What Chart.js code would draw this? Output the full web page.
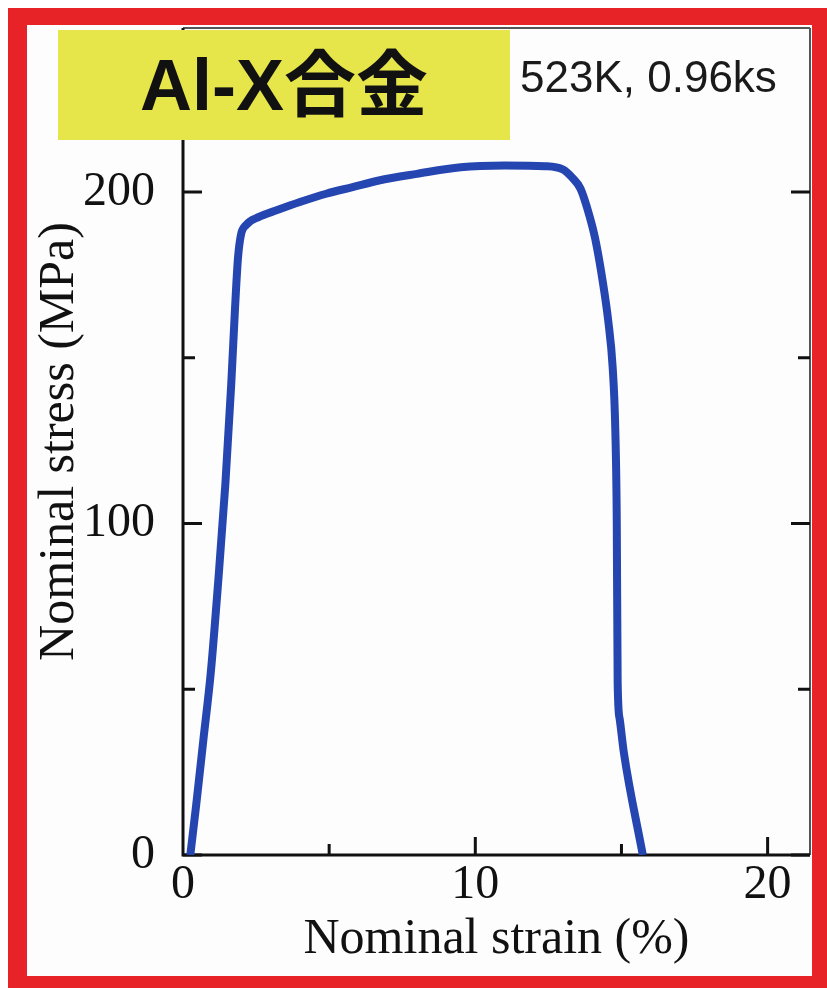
<!DOCTYPE html>
<html>
<head>
<meta charset="utf-8">
<script src="https://cdn.jsdelivr.net/npm/chart.js@4/dist/chart.umd.min.js"></script>
<style>
  body { margin: 0; background: #fff; }
  #frame {
    position: absolute; left: 8px; top: 8px;
    width: 785px; height: 951px;
    border-style: solid; border-color: #e82328;
    border-width: 17px 15px 12px 19px;
    background: #fdfdfd;
  }
  #chart { position: absolute; left: 0; top: 0; }
  #badge {
    position: absolute; left: 31px; top: 5px; width: 452px; height: 110px;
    background: #e6e64a; color: #111; text-align: center;
    font: bold 72px "Liberation Sans", "Noto Sans CJK JP", sans-serif;
    line-height: 110px;
  }
  #cond {
    position: absolute; left: 493px; top: 30px;
    font: 44px "Liberation Sans", sans-serif; line-height: 1; color: #1a1a1a;
  }
</style>
</head>
<body>
<div id="frame">
  <canvas id="chart" width="785" height="951"></canvas>
  <div id="badge">Al-X合金</div>
  <div id="cond">523K, 0.96ks</div>
</div>
<script>
// values: strain (%) vs stress (MPa)
const strain = [0.25, 0.45, 0.7, 0.95, 1.2, 1.45, 1.65, 1.78, 1.88, 1.98, 2.15, 2.6, 3.2, 4.0, 4.9, 5.8, 6.7, 8.0, 9.5, 11.0, 12.4, 13.0, 13.3, 13.6, 13.9, 14.1, 14.36, 14.55, 14.7, 14.79, 14.84, 14.87, 14.94, 15.08, 15.73];
const stress = [0, 15, 35, 55, 82, 112, 142, 165, 180, 187, 190, 192.5, 194.5, 197, 199.5, 201.5, 203.5, 205.5, 207.5, 208, 207.8, 206.8, 204.5, 201, 193, 186, 173, 161, 147, 128, 100, 52, 41, 31, 0];

const xTicks = [0, 10, 20];
const xMinor = [5, 15];
const yTicks = [0, 100, 200];
const yMinor = [50, 150];

const serif = '"Liberation Serif", "Times New Roman", serif';

// box frame with inward ticks
const framePlugin = {
  id: 'frame',
  beforeDatasetsDraw(chart) {
    const { ctx, chartArea: a, scales } = chart;
    ctx.save();
    ctx.strokeStyle = '#555';
    ctx.lineWidth = 2;
    ctx.beginPath();
    ctx.moveTo(a.left, a.top); ctx.lineTo(a.right, a.top);
    ctx.moveTo(a.right, a.top); ctx.lineTo(a.right, a.bottom);
    ctx.stroke();

    ctx.strokeStyle = '#111';
    ctx.lineWidth = 3;
    ctx.beginPath();
    ctx.moveTo(a.left, a.top); ctx.lineTo(a.left, a.bottom);
    ctx.lineTo(a.right, a.bottom);
    ctx.stroke();

    ctx.beginPath();
    yTicks.concat(yMinor).forEach(v => {
      const len = yTicks.includes(v) ? 19 : 12;
      const y = scales.y.getPixelForValue(v);
      ctx.moveTo(a.left, y); ctx.lineTo(a.left + len, y);
      ctx.moveTo(a.right, y); ctx.lineTo(a.right - len, y);
    });
    xTicks.concat(xMinor).forEach(v => {
      if (v === 0) return;
      const len = xTicks.includes(v) ? 18 : 11;
      const x = scales.x.getPixelForValue(v);
      ctx.moveTo(x, a.bottom); ctx.lineTo(x, a.bottom - len);
    });
    ctx.stroke();
    ctx.restore();
  }
};

new Chart(document.getElementById('chart'), {
  type: 'scatter',
  data: {
    datasets: [{
      data: strain.map((x, i) => ({ x: x, y: stress[i] })),
      showLine: true,
      borderColor: '#2546b0',
      borderWidth: 8,
      pointRadius: 0,
      cubicInterpolationMode: 'monotone',
      fill: false
    }]
  },
  options: {
    responsive: false,
    animation: false,
    devicePixelRatio: 1,
    layout: { padding: { top: 3, right: 2, left: 0, bottom: 0 } },
    plugins: { legend: { display: false }, tooltip: { enabled: false } },
    scales: {
      x: {
        type: 'linear', min: 0, max: 21.45,
        grid: { display: false, drawTicks: false },
        border: { display: false },
        afterBuildTicks: s => { s.ticks = xTicks.map(v => ({ value: v })); },
        afterFit: s => { s.height = 121; s.paddingLeft = 0; s.paddingRight = 0; },
        ticks: { color: '#111', padding: 2, maxRotation: 0, font: { family: serif, size: 48 } },
        title: {
          display: true, text: 'Nominal strain (%)', color: '#111',
          padding: { top: 0, bottom: 6 },
          font: { family: serif, size: 50 }
        }
      },
      y: {
        type: 'linear', min: 0, max: 249.5,
        grid: { display: false, drawTicks: false },
        border: { display: false },
        afterBuildTicks: s => { s.ticks = yTicks.map(v => ({ value: v })); },
        afterFit: s => { s.width = 156; s.paddingTop = 0; s.paddingBottom = 0; },
        ticks: { color: '#111', padding: 28, font: { family: serif, size: 48 } },
        title: {
          display: true, text: 'Nominal stress (MPa)', color: '#111',
          padding: { top: 3, bottom: 0 },
          font: { family: serif, size: 50 }
        }
      }
    }
  },
  plugins: [framePlugin]
});
</script>
</body>
</html>
